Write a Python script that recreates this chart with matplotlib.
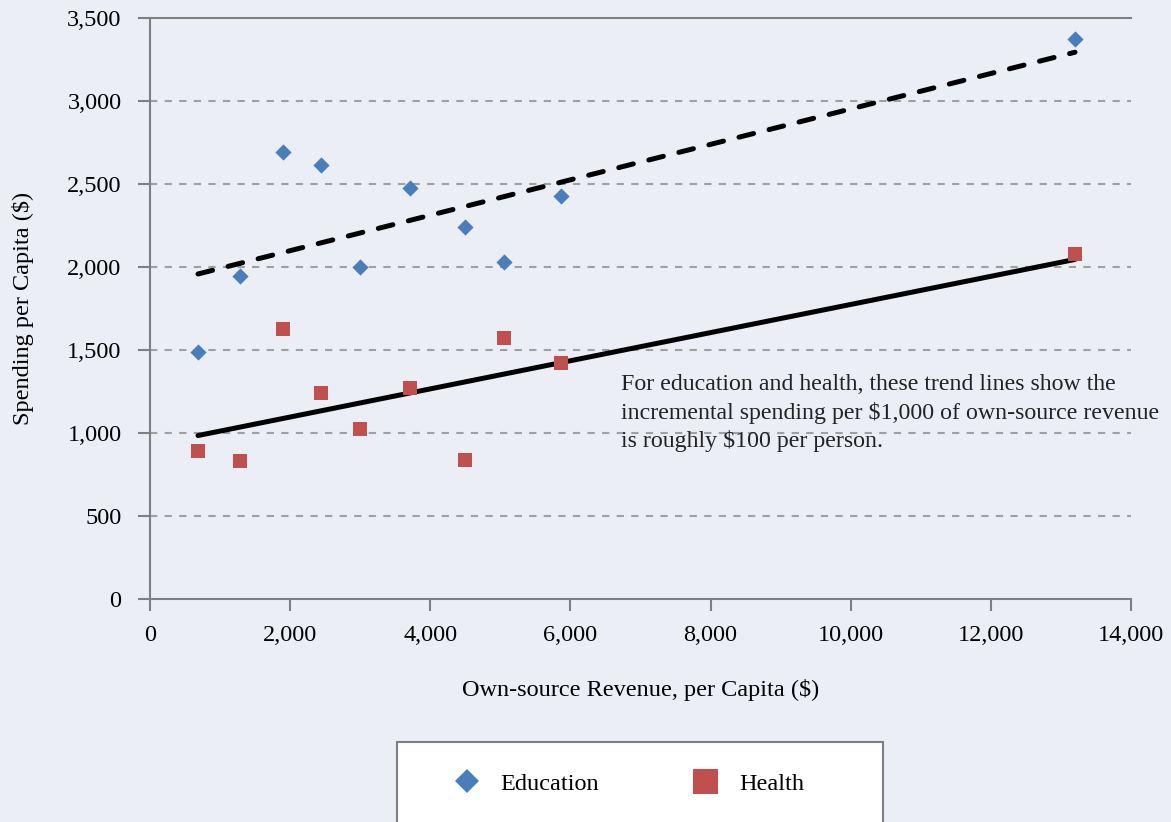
import numpy as np
import matplotlib.pyplot as plt
from matplotlib.lines import Line2D
from matplotlib.patches import Rectangle

plt.rcParams['font.family'] = ['Liberation Serif', 'DejaVu Serif']

# own-source revenue per capita, and spending per capita
revenue = [685, 1284, 1898, 2440, 2990, 3711, 4496, 5052, 5866, 13201]
education = [1490, 1946, 2693, 2614, 2000, 2476, 2241, 2030, 2428, 3373]
health = [892, 831, 1627, 1241, 1024, 1271, 837, 1572, 1422, 2078]

yticks = [0, 500, 1000, 1500, 2000, 2500, 3000, 3500]
xticks = [0, 2000, 4000, 6000, 8000, 10000, 12000, 14000]

note = ("For education and health, these trend lines show the\n"
        "incremental spending per $1,000 of own-source revenue\n"
        "is roughly $100 per person.")

bg = '#ebeef5'
blue = '#4a7ebb'
red = '#c0504d'
gray = '#7f7f7f'
W, H = 1171, 822

fig = plt.figure(figsize=(W / 100, H / 100), dpi=100, facecolor=bg)
ax = fig.add_axes([150 / W, 1 - 599 / H, 981 / W, 581 / H], facecolor=bg)

x = np.array(revenue)
xx = np.array([x.min(), x.max()])
for vals, ls in [(education, (0, (3.0, 3.2))), (health, '-')]:
    m, b = np.polyfit(x, np.array(vals), 1)
    ax.plot(xx, m * xx + b, color='black', lw=3.6, ls=ls, dash_capstyle='round',
            solid_capstyle='round', zorder=3)

ax.scatter(revenue, education, marker='D', s=68, color=blue, zorder=4, linewidths=0)
ax.scatter(revenue, health, marker='s', s=104, color=red, zorder=4, linewidths=0)

ax.set_xlim(0, 14000)
ax.set_ylim(0, 3500)
ax.set_xticks(xticks)
ax.set_yticks(yticks)
ax.set_xticklabels([f'{v:,}' for v in xticks])
ax.set_yticklabels([f'{v:,}' for v in yticks])
ax.tick_params(axis='both', length=8.5, width=1.5, color=gray, labelsize=17.5)
ax.tick_params(axis='y', pad=12)
ax.tick_params(axis='x', pad=10)

for v in yticks[1:-1]:
    ax.axhline(v, color='#a0a0a0', lw=1.5, ls=(0, (3.5, 3.5)), zorder=1)

ax.spines['right'].set_visible(False)
for s in ['left', 'bottom', 'top']:
    ax.spines[s].set_color(gray)
    ax.spines[s].set_linewidth(1.5)

ax.set_xlabel('Own-source Revenue, per Capita ($)', fontsize=17.5, labelpad=24)
ax.set_ylabel('Spending per Capita ($)', fontsize=17.5, labelpad=24)

ax.text(6720, 1355, note, fontsize=17.2, va='top', ha='left', color='#222222',
        linespacing=1.38, clip_on=False)

# legend box, cut off at the bottom edge like the original
fig.patches.append(Rectangle((397 / W, 0 - 10 / H), 486 / W, (H - 742 + 10) / H,
                             transform=fig.transFigure, facecolor='white',
                             edgecolor=gray, lw=1.5, zorder=0))
handles = [Line2D([], [], marker='D', ls='', color=blue, markersize=12.5, markeredgewidth=0),
           Line2D([], [], marker='s', ls='', color=red, markersize=18, markeredgewidth=0)]
leg = fig.legend(handles, ['Education', 'Health'], loc='center left',
                 bbox_to_anchor=(454.5 / W, 1 - 784 / H), ncol=2, fontsize=17.5,
                 frameon=False, borderpad=0, borderaxespad=0, handlelength=1.0,
                 handletextpad=0.9, columnspacing=3.85)

fig.savefig('out.png', dpi=100, facecolor=bg)
